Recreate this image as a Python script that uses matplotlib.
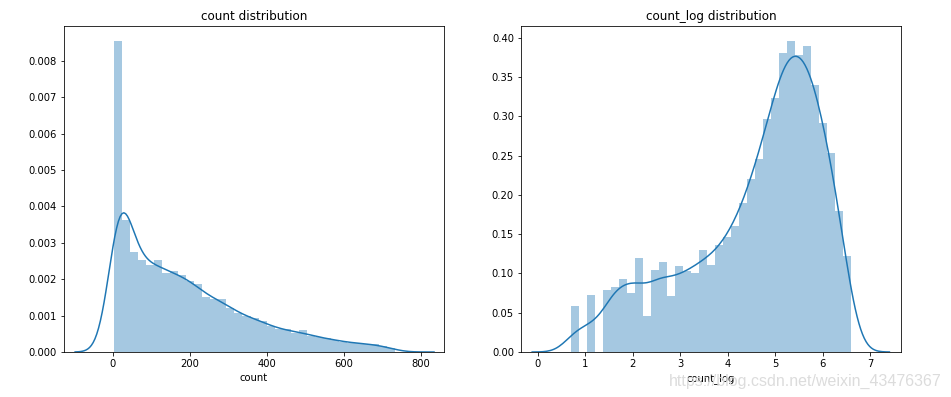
import numpy as np
import matplotlib
matplotlib.use("Agg")
import matplotlib.pyplot as plt
import seaborn as sns

# bin edges: 35 bins over the count range (2 .. 734), and the same on log scale
count_min, count_max, n_bins = 2, 734, 35

# density of each count bin
count_density = [8.54, 3.63, 2.75, 2.53, 2.39, 2.53, 2.18, 2.22, 2.13, 1.94,
                 1.87, 1.52, 1.47, 1.45, 1.22, 1.08, 0.98, 0.93, 0.84, 0.72,
                 0.64, 0.62, 0.52, 0.60, 0.43, 0.40, 0.39, 0.33, 0.28, 0.26,
                 0.24, 0.22, 0.21, 0.16, 0.12]
count_density = [v * 1e-3 for v in count_density]

# density of each count_log bin
log_density = [0.0585, 0.0, 0.0725, 0.0, 0.079, 0.083, 0.093, 0.075, 0.120, 0.046,
               0.104, 0.1145, 0.071, 0.109, 0.103, 0.100, 0.130, 0.111, 0.136, 0.1467,
               0.160, 0.190, 0.2197, 0.245, 0.297, 0.3236, 0.380, 0.3957, 0.378, 0.389,
               0.3397, 0.291, 0.2528, 0.179, 0.122]

count_edges = np.linspace(count_min, count_max, n_bins + 1)
log_edges = np.linspace(np.log(count_min), np.log(count_max), n_bins + 1)

W, H = 951, 397
fig = plt.figure(figsize=(W / 72, H / 72), dpi=72)
ax1 = fig.add_axes([64 / W, 45 / H, 380 / W, 326 / H])
ax2 = fig.add_axes([521 / W, 45 / H, 380 / W, 326 / H])


def distplot(ax, edges, dens, title, xlabel):
    centers = (edges[:-1] + edges[1:]) / 2
    ax.hist(centers, bins=edges, weights=dens, color="C0", alpha=0.4)
    sns.kdeplot(x=centers, weights=dens, bw_method=0.172, cut=3.0,
                color="C0", linewidth=1.5, ax=ax)
    ax.set_title(title)
    ax.set_xlabel(xlabel)
    ax.set_ylabel("")


distplot(ax1, count_edges, count_density, "count distribution", "count")
distplot(ax2, log_edges, log_density, "count_log distribution", "count_log")

ax1.set_xlim(-127, 860)
ax1.set_ylim(0, 0.00896)
ax2.set_xlim(-0.35, 7.65)
ax2.set_ylim(0, 0.4148)

# csdn watermark, it sits over the count_log label in the source too
fig.text(942 / W, 1 - 386 / H, "https://blog.csdn.net/weixin_43476367",
         ha="right", va="baseline", fontsize=16, color="#dcdcdc",
         family="Liberation Sans")

fig.savefig("out.png", dpi=72)
